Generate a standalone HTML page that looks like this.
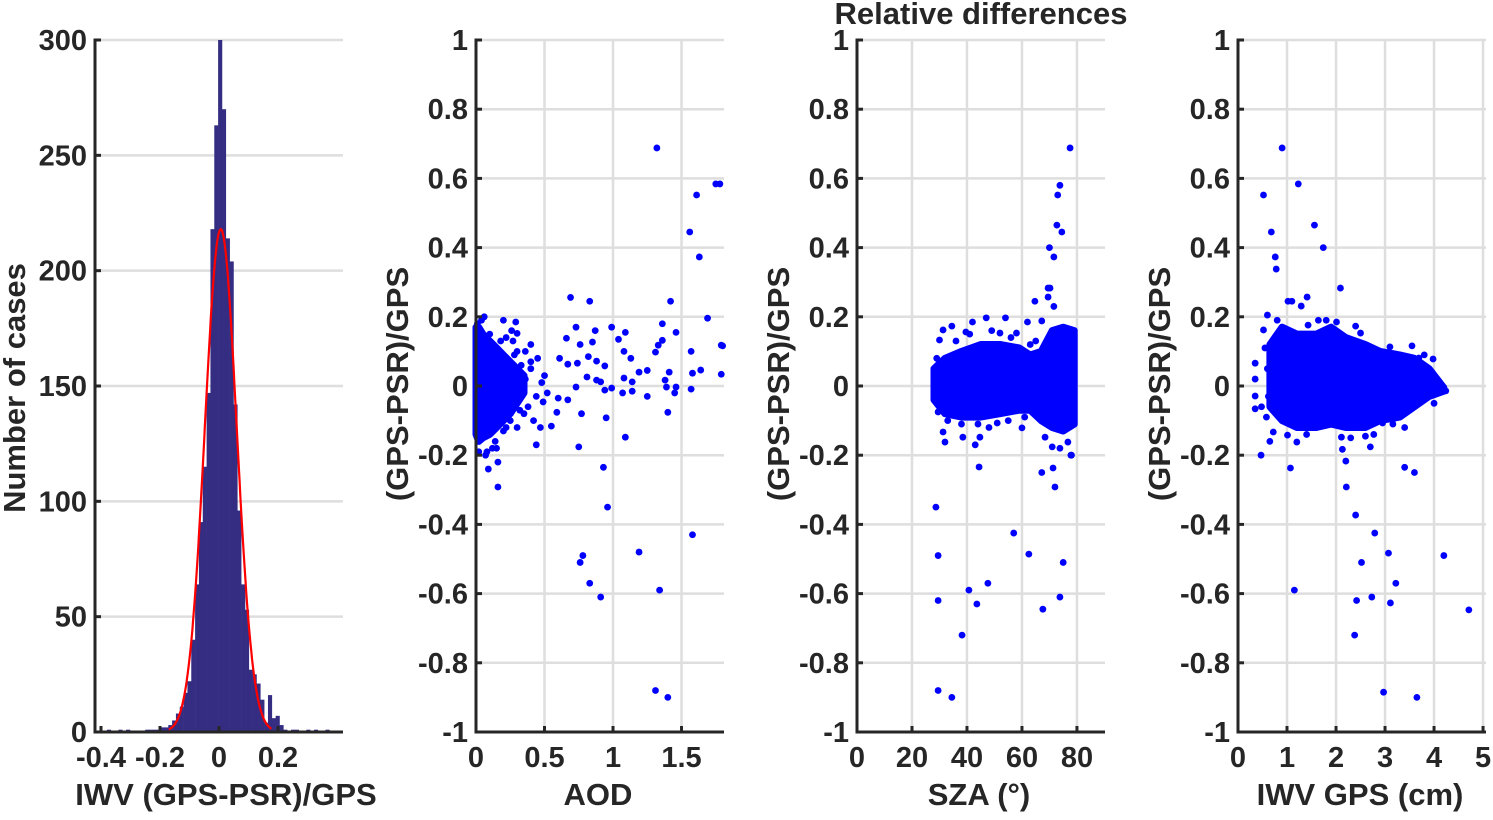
<!DOCTYPE html>
<html><head><meta charset="utf-8"><style>
html,body{margin:0;padding:0;background:#fff;}
svg{display:block;font-family:"Liberation Sans",Arial,sans-serif;font-weight:bold;}
</style></head><body>
<svg id="chart" width="1493" height="820" viewBox="0 0 1493 820" xmlns="http://www.w3.org/2000/svg"></svg>
<script>
// ---- Histogram data ----
const histStart = -0.38;
const histBinWidth = 0.013;
const histCounts = [1,0,0,1,0,1,0,0,0,0,1,1,1,1,2,2,3,
  5,8,11,17,22,40,64,91,115,147,218,263,300,270,214,204,142,96,64,53,27,25,21,14,4,16,6,7,3,
  1,0,1,1,0,0,1,0,1,0,0,1];
const fitPeak = 218, fitMean = 0.006, fitSigma = 0.054;
const histXTicks = [-0.4,-0.2,0,0.2];
const histXTickLabels = ["-0.4","-0.2","0","0.2"];
const histYTicks = [0,50,100,150,200,250,300];

const relTicks = [-1,-0.8,-0.6,-0.4,-0.2,0,0.2,0.4,0.6,0.8,1];
const relTickLabels = ["-1","-0.8","-0.6","-0.4","-0.2","0","0.2","0.4","0.6","0.8","1"];

// ---- AOD panel ----
const aodTicks = [0,0.5,1,1.5];
const aodTickLabels = ["0","0.5","1","1.5"];
const aodCoreX = [0,0.02,0.05,0.1,0.15,0.2,0.25,0.3,0.35];
const aodCoreUpper = [0.17,0.17,0.15,0.13,0.11,0.09,0.07,0.05,0.03];
const aodCoreLower = [-0.14,-0.16,-0.15,-0.14,-0.12,-0.1,-0.08,-0.05,-0.02];
const aodX = [0.69,0.83,1.42,1.69,0.2,0.29,0.73,0.99,1.36,0.87,1.09,1.46,0.3,0.66,1.04,1.36,0.76,0.85,1.33,1.79,1.08,1.31,1.57,1.13,0.82,0.88,0.61,0.67,0.74,0.94,1.19,1.25,1.41,1.58,1.64,1.79,0.81,1.08,1.38,0.88,0.91,1.14,0.73,0.99,0.94,1.39,1.46,1.57,1.07,1.14,1.45,1.25,0.67,0.6,0.49,1.4,0.77,0.95,0.59,0.55,1.09,0.75,0.44,0.93,0.16,0.09,0.07,0.16,0.15,
  1.32,1.61,1.75,1.78,1.56,1.63,1.8,0.96,0.76,0.78,0.83,0.91,1.19,1.34,1.58,1.31,1.4,
  0.4,0.45,0.5,0.38,0.42,0.36,0.47,0.3,0.33,0.27,0.25,0.35,0.4,0.44,0.3,0.22,0.26,0.2,0.12,0.08,0.04,0.02,0.01,0.06,0.1,0.14,0.18,0.22,0.28,0.32,0.36,0.4,0.48,0.52];
const aodY = [0.256,0.245,0.245,0.196,0.19,0.185,0.17,0.17,0.18,0.16,0.155,0.155,0.152,0.138,0.135,0.132,0.12,0.127,0.118,0.118,0.1,0.098,0.1,0.08,0.085,0.072,0.08,0.063,0.066,0.058,0.04,0.045,0.04,0.037,0.046,0.034,0.026,0.023,0.017,0.017,0.012,0.012,-0.003,-0.006,-0.012,-0.003,-0.003,-0.009,-0.02,-0.015,-0.02,-0.03,-0.04,-0.035,-0.046,-0.076,-0.08,-0.092,-0.076,-0.116,-0.148,-0.176,-0.17,-0.235,-0.292,-0.24,-0.2,-0.22,-0.18,
  0.688,0.552,0.584,0.584,0.445,0.373,0.116,-0.35,-0.51,-0.49,-0.57,-0.61,-0.48,-0.59,-0.43,-0.88,-0.9,
  0.12,0.08,0.03,-0.06,-0.1,0.1,-0.12,0.1,0.06,0.13,-0.1,-0.08,0.05,-0.03,-0.12,0.14,0.16,-0.13,-0.18,-0.19,0.19,-0.19,0.18,0.2,0.15,-0.16,0.13,-0.12,0.09,-0.07,0.02,0.07,0.01,-0.02];

// ---- SZA panel ----
const szaTicks = [0,20,40,60,80];
const szaTickLabels = ["0","20","40","60","80"];
const szaCoreX = [28,32,38,45,52,59,63,67,71,75,79];
const szaCoreUpper = [0.05,0.08,0.1,0.12,0.12,0.11,0.09,0.1,0.16,0.17,0.16];
const szaCoreLower = [-0.04,-0.08,-0.09,-0.09,-0.08,-0.07,-0.07,-0.1,-0.12,-0.13,-0.11];
const szaX = [77.5,73.8,73,72.7,74.5,70,71.6,70.2,69.5,64.7,71.6,69.5,34.5,31.3,30,42,47,54,62,67.2,39.6,52,58,
  29.5,31.3,32,38.5,43,44.7,44.4,51,60,67.2,71.3,72,73.8,78,76.7,71,68.4,
  28.7,29.5,29.5,29.5,34.5,38.2,40.7,43.6,47.6,57,62.5,67.6,75,73.8,77.8,
  36,41,49,56,44,33,29,65,61,55,38,48,63];
const szaY = [0.688,0.58,0.552,0.465,0.445,0.4,0.373,0.283,0.257,0.245,0.23,0.283,0.173,0.162,0.133,0.185,0.197,0.197,0.185,0.188,0.156,0.153,0.153,
  -0.075,-0.133,-0.162,-0.148,-0.17,-0.148,-0.234,-0.107,-0.121,-0.25,-0.237,-0.292,-0.18,-0.2,-0.162,-0.176,-0.148,
  -0.35,-0.49,-0.62,-0.88,-0.9,-0.72,-0.59,-0.63,-0.57,-0.425,-0.486,-0.645,-0.51,-0.61,-0.2,
  0.13,0.15,0.16,0.14,-0.11,-0.1,0.08,0.13,-0.09,-0.1,-0.11,-0.12,0.12];

// ---- IWV panel ----
const iwvTicks = [0,1,2,3,4,5];
const iwvTickLabels = ["0","1","2","3","4","5"];
const iwvCoreX = [0.65,0.9,1.2,1.6,1.9,2.2,2.6,2.9,3.3,3.6,3.9,4.2];
const iwvCoreUpper = [0.12,0.17,0.15,0.15,0.17,0.14,0.12,0.1,0.09,0.08,0.05,-0.005];
const iwvCoreLower = [-0.06,-0.1,-0.12,-0.12,-0.11,-0.12,-0.12,-0.1,-0.09,-0.06,-0.03,-0.015];
const iwvX = [0.9,1.23,0.52,1.56,0.68,1.74,0.76,0.78,2.09,1.02,1.1,1.41,1.29,0.6,0.52,0.35,0.35,0.35,0.35,0.48,0.65,0.72,0.47,1.01,1.2,1.07,2.11,2.13,2.2,2.21,2.6,2.7,2.77,3.4,3.6,3.98,3.55,3.1,3.69,2.4,2.5,1.64,2.01,1.43,4.1,4.24,3.85,2.95,3.16,
  2.4,2.52,2.79,2.38,2.42,2.73,3.07,3.11,3.22,2.97,3.65,1.15,4.2,4.71,
  0.55,0.6,0.62,0.58,0.8,1.4,1.8,2.3,3.4,3.8,4.0];
const iwvY = [0.688,0.584,0.552,0.465,0.445,0.4,0.373,0.338,0.283,0.245,0.245,0.257,0.231,0.205,0.162,0.066,0.02,-0.029,-0.066,-0.06,-0.16,-0.133,-0.2,-0.142,-0.162,-0.237,-0.148,-0.183,-0.217,-0.292,-0.145,-0.176,-0.14,-0.235,-0.25,0.078,0.116,0.113,0.081,0.173,0.153,0.19,0.185,0.176,0.003,-0.014,0.046,-0.107,-0.11,
  -0.373,-0.51,-0.425,-0.72,-0.62,-0.61,-0.483,-0.627,-0.57,-0.885,-0.9,-0.59,-0.49,-0.647,
  0.11,0.05,-0.03,-0.09,0.19,-0.14,0.19,-0.15,-0.12,0.09,-0.05];

const NS = "http://www.w3.org/2000/svg";
const svg = document.getElementById("chart");
function mk(tag, attrs, parent){
  const e = document.createElementNS(NS, tag);
  for (const k in attrs) e.setAttribute(k, attrs[k]);
  (parent||svg).appendChild(e);
  return e;
}
const TOP = 40, BOT = 732;
const AXC = "#262626", GRID = "#dedede";
const TICKFS = 29;

function drawAxes(name, x0, x1, sx, sy, xt, yt, vgrid){
  const g = mk("g", {});
  
  
  yt.forEach(v => { mk("line",{x1:x0,x2:x1,y1:sy(v),y2:sy(v),stroke:GRID,"stroke-width":2.5},g); });
  if (vgrid) xt.forEach(v => { if (sx(v) > x0+2) mk("line",{x1:sx(v),x2:sx(v),y1:TOP,y2:BOT,stroke:GRID,"stroke-width":2.5},g); });
}
function drawFrame(name, x0, x1, sx, sy, xt, xtl, yt, ytl){
  const g = mk("g", {});
  
  
  mk("line",{x1:x0,x2:x0,y1:TOP-1.5,y2:BOT+1.5,stroke:AXC,"stroke-width":3},g);
  mk("line",{x1:x0-1.5,x2:x1,y1:BOT,y2:BOT,stroke:AXC,"stroke-width":3},g);
  yt.forEach((v,i) => {
    mk("line",{x1:x0,x2:x0+6,y1:sy(v),y2:sy(v),stroke:AXC,"stroke-width":3},g);
    const t = mk("text",{x:x0-8,y:sy(v)+10,"text-anchor":"end","font-size":TICKFS,fill:AXC},g);
    t.textContent = ytl[i];
    
    
  });
  xt.forEach((v,i) => {
    mk("line",{x1:sx(v),x2:sx(v),y1:BOT,y2:BOT-6,stroke:AXC,"stroke-width":3},g);
    const t = mk("text",{x:sx(v),y:BOT+35,"text-anchor":"middle","font-size":TICKFS,fill:AXC},g);
    t.textContent = xtl[i];
    
    
  });
}
function label(txt, x, y, rot, name, size){
  const t = mk("text",{x:x,y:y,"text-anchor":"middle","font-size":size||31,fill:AXC});
  if (rot) t.setAttribute("transform","rotate(-90 "+x+" "+y+")");
  t.textContent = txt;
  
  
}

// ---- Panel 1: histogram ----
(function(){
  const x0=95, x1=343;
  const sx = v => 219 + v*295;
  const sy = v => BOT - v*(BOT-TOP)/300;
  drawAxes("histogram", x0, x1, sx, sy, histXTicks, histYTicks, false);
  const g = mk("g",{});
  
  
  histCounts.forEach((c,i) => {
    if (!c) return;
    const a = sx(histStart + i*histBinWidth), b = sx(histStart + (i+1)*histBinWidth);
    const r = mk("rect",{x:a,y:sy(c),width:b-a+0.3,height:BOT-sy(c),fill:"#342d82"},g);
    
    
  });
  let d = "";
  for (let v=-0.17; v<=0.18; v+=0.002){
    const y = fitPeak*Math.exp(-0.5*Math.pow((v-fitMean)/fitSigma,2));
    d += (d?"L":"M") + sx(v).toFixed(1) + "," + sy(y).toFixed(1);
  }
  const p = mk("path",{d:d,fill:"none",stroke:"#ff0000","stroke-width":2.2});
  
  
  drawFrame("histogram", x0, x1, sx, sy, histXTicks, histXTickLabels, histYTicks, histYTicks.map(String));
  label("Number of cases", 25, 388, true, "histogram-y-axis-title");
  label("IWV (GPS-PSR)/GPS", 226, 805, false, "histogram-x-axis-title");
})();

// ---- Scatter panels ----
function scatterPanel(name, x0, x1, xmax, xt, xtl, coreX, coreU, coreL, px, py, xTitle, yTitleX){
  const sx = v => x0 + v*(x1-x0)/xmax;
  const sy = v => 386 - v*346;
  drawAxes(name, x0, x1, sx, sy, xt, relTicks, true);
  let d = "";
  coreX.forEach((v,i)=>{ d += (i?"L":"M") + sx(v).toFixed(1)+","+sy(coreU[i]).toFixed(1); });
  for (let i=coreX.length-1;i>=0;i--) d += "L"+sx(coreX[i]).toFixed(1)+","+sy(coreL[i]).toFixed(1);
  d += "Z";
  const core = mk("path",{d:d,fill:"#0000ff",stroke:"#0000ff","stroke-width":7,"stroke-linejoin":"round"});
  
  
  const g = mk("g",{});
  
  
  px.forEach((v,i)=>{
    const c = mk("circle",{cx:sx(v),cy:sy(py[i]),r:3.4,fill:"#0000ff"},g);
    
    
  });
  drawFrame(name, x0, x1, sx, sy, xt, xtl, relTicks, relTickLabels);
  label(xTitle, (x0+x1)/2 - 2, 805, false, name + "-x-axis-title");
  label("(GPS-PSR)/GPS", yTitleX, 384, true, name + "-y-axis-title");
}
scatterPanel("aod", 476, 724, 1.81, aodTicks, aodTickLabels, aodCoreX, aodCoreUpper, aodCoreLower, aodX, aodY, "AOD", 408);
scatterPanel("sza", 857, 1105, 90.2, szaTicks, szaTickLabels, szaCoreX, szaCoreUpper, szaCoreLower, szaX, szaY, "SZA (°)", 789);
scatterPanel("iwv", 1238, 1486, 5.06, iwvTicks, iwvTickLabels, iwvCoreX, iwvCoreUpper, iwvCoreLower, iwvX, iwvY, "IWV GPS (cm)", 1170);
label("Relative differences", 981, 24, false, "figure-title", 31);
</script>
</body></html>
